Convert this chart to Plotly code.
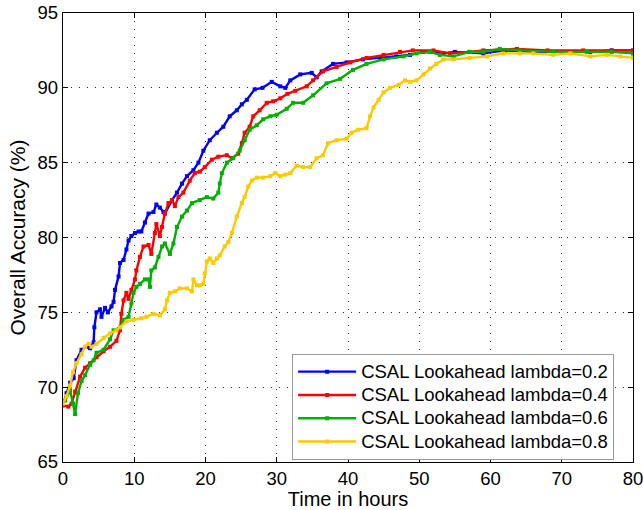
import plotly.graph_objects as go

# ---- data (hours, overall accuracy %) ----
blue_h = [0, 0.5, 1.0, 1.5, 1.9, 2.6, 3.3, 3.8, 4.3, 4.4, 4.7, 5.2, 5.4, 5.9, 6.3, 6.8, 7.1, 7.3, 7.8, 8.0,
          8.5, 8.9, 9.2, 9.6, 10.1, 10.6, 11.0, 11.5, 12.0, 12.7, 13.1, 13.6, 14.1, 14.3, 15.3, 16.0, 16.7,
          17.4, 18.3, 19.0, 19.7, 20.6, 21.6, 22.5, 23.4, 24.4, 25.1, 25.8, 26.9, 28.0, 29.3, 30.5, 31.2,
          31.9, 33.3, 34.9, 35.6, 36.3, 37.9, 39.8, 42.1, 44.5, 46.8, 48.7, 50.5, 53.4, 55, 59, 62, 66, 70,
          74, 77, 80]
blue_v = [68.8, 69.6, 70.3, 70.6, 71.8, 72.5, 72.7, 72.6, 73.0, 74.0, 75.0, 75.2, 74.7, 75.3, 75.0, 75.4,
          75.7, 76.5, 77.4, 78.3, 78.5, 79.2, 79.8, 80.1, 80.3, 80.4, 80.4, 81.0, 81.6, 81.7, 82.2, 82.0,
          81.7, 81.6, 82.5, 83.0, 83.6, 84.1, 84.5, 85.0, 85.8, 86.5, 87.0, 87.4, 88.1, 88.5, 88.9, 89.2,
          89.9, 90.0, 90.4, 90.1, 90.0, 90.5, 90.9, 91.0, 90.7, 91.1, 91.6, 91.7, 91.9, 92.0, 92.1, 92.2,
          92.4, 92.3, 92.4, 92.3, 92.5, 92.4, 92.4, 92.4, 92.5, 92.5]

red_h = [0, 0.75, 1.2, 1.7, 2.4, 3.1, 3.8, 4.7, 5.7, 6.6, 7.5, 8.0, 8.2, 8.5, 8.9, 9.2, 9.6, 10.1, 10.3,
         10.8, 11.3, 12.0, 12.4, 12.9, 13.1, 13.6, 13.9, 14.3, 14.8, 15.3, 15.7, 16.2, 16.9, 17.8, 18.5,
         19.2, 19.9, 20.9, 21.8, 23.0, 23.7, 24.6, 25.1, 25.5, 26.2, 26.7, 27.6, 28.6, 29.5, 30.5, 31.5,
         32.6, 34.2, 35.1, 36.5, 38.4, 40.3, 42.6, 45.0, 47.3, 49.1, 52, 54.3, 57, 59, 63.7, 68, 73, 77, 80]
red_v = [68.8, 68.7, 68.9, 69.7, 70.7, 71.3, 71.6, 72.0, 72.4, 72.7, 73.1, 73.8, 74.9, 75.8, 76.3, 75.9,
         76.5, 77.2, 77.8, 78.7, 79.4, 79.5, 78.9, 80.3, 80.9, 80.1, 80.7, 81.6, 82.3, 82.5, 82.1, 82.7,
         83.0, 83.8, 84.3, 84.4, 84.7, 85.2, 85.4, 85.5, 85.3, 85.6, 86.3, 87.0, 87.4, 88.1, 88.5, 89.0,
         89.1, 89.3, 89.6, 89.8, 90.1, 90.5, 91.1, 91.4, 91.7, 92.0, 92.2, 92.4, 92.5, 92.5, 92.3, 92.4,
         92.5, 92.6, 92.5, 92.5, 92.5, 92.5]

green_h = [0, 0.3, 1.0, 1.4, 1.7, 2.1, 2.6, 3.1, 3.8, 4.3, 4.7, 5.7, 6.6, 7.1, 8.0, 8.5, 9.2, 9.6, 9.9,
           10.3, 10.8, 11.5, 12.0, 12.2, 12.4, 12.9, 13.4, 13.9, 14.3, 15.0, 15.5, 16.0, 16.7, 17.4, 18.1,
           19.2, 20.2, 21.1, 21.8, 22.0, 22.3, 23.0, 23.9, 24.8, 25.5, 26.2, 27.2, 28.1, 29.1, 30.0, 31.4,
           32.3, 33.7, 35.1, 37.0, 38.9, 40.7, 42.6, 45.0, 47.8, 49.6, 51.5, 52.9, 54.8, 57.1, 59, 61.3,
           64.1, 68.8, 73.5, 77, 80]
green_v = [69.0, 69.1, 69.8, 68.9, 68.2, 69.6, 70.4, 70.8, 71.5, 71.8, 72.3, 72.5, 73.2, 73.8, 74.0, 74.5,
           74.7, 75.6, 76.3, 76.7, 76.9, 77.2, 77.2, 76.7, 77.8, 78.0, 78.7, 79.4, 79.6, 78.9, 79.6, 80.7,
           81.4, 81.8, 82.3, 82.5, 82.7, 82.6, 83.0, 83.6, 84.3, 85.0, 85.3, 85.8, 86.5, 87.2, 87.5, 87.9,
           88.1, 88.2, 88.6, 89.0, 89.0, 89.5, 90.3, 90.6, 91.2, 91.6, 91.9, 92.1, 92.3, 92.4, 92.2, 92.1,
           92.4, 92.4, 92.6, 92.5, 92.4, 92.4, 92.4, 92.3]

yellow_h = [0, 0.5, 1.0, 1.4, 1.9, 2.6, 3.1, 3.6, 4.0, 4.7, 5.7, 6.6, 7.5, 8.0, 8.9, 9.9, 11.0, 11.7, 12.7,
            13.6, 14.3, 14.6, 15.0, 15.7, 16.4, 17.4, 18.1, 18.3, 18.8, 19.2, 19.7, 19.9, 20.2, 20.6, 21.1,
            21.6, 22.0, 22.7, 23.2, 23.7, 24.4, 25.1, 25.5, 26.0, 26.5, 27.2, 28.1, 29.1, 29.8, 30.5, 31.2,
            31.9, 32.8, 33.7, 34.7, 35.6, 36.5, 37.2, 38.4, 39.8, 40.5, 41.4, 42.6, 43.1, 43.6, 44.3, 45.0,
            45.9, 47.1, 48.0, 48.7, 49.6, 50.6, 51.5, 52.4, 53.4, 54.8, 57.1, 59.5, 61.8, 64.1, 66, 68.8,
            71.2, 74.0, 76.3, 78.2, 80]
yellow_v = [68.9, 69.4, 70.1, 71.0, 71.6, 72.2, 72.7, 72.9, 72.7, 72.9, 73.3, 73.6, 73.8, 74.0, 74.4, 74.5,
            74.6, 74.7, 74.9, 74.8, 75.2, 75.8, 76.3, 76.4, 76.6, 76.6, 76.4, 77.2, 76.8, 76.8, 76.9, 77.6,
            78.4, 78.6, 78.3, 78.6, 78.8, 79.4, 79.7, 80.3, 81.4, 82.3, 82.7, 83.4, 83.8, 84.0, 84.0, 84.1,
            84.3, 84.1, 84.2, 84.3, 84.8, 84.7, 84.7, 85.3, 85.5, 86.3, 86.5, 86.6, 87.0, 87.2, 87.3, 88.1,
            88.7, 89.2, 89.7, 90.0, 90.2, 90.5, 90.4, 90.5, 90.9, 91.3, 91.6, 91.9, 91.9, 92.0, 92.1, 92.3,
            92.3, 92.3, 92.2, 92.3, 92.1, 92.2, 92.1, 92.0]

names = ["CSAL Lookahead lambda=0.2", "CSAL Lookahead lambda=0.4",
         "CSAL Lookahead lambda=0.6", "CSAL Lookahead lambda=0.8"]
colors = ["#0000FF", "#FF0000", "#00B000", "#FFC800"]

x_ticks = [0, 10, 20, 30, 40, 50, 60, 70, 80]
y_ticks = [65, 70, 75, 80, 85, 90, 95]

series = [(blue_h, blue_v), (red_h, red_v), (green_h, green_v), (yellow_h, yellow_v)]

fig = go.Figure()
for (h, v), name, col in zip(series, names, colors):
    fig.add_trace(go.Scatter(
        x=h, y=v, mode="lines+markers",
        name="<span style='font-size:18.5px'>" + name + "</span>",
        line=dict(color=col, width=2.4),
        marker=dict(color=col, size=4, symbol="square"),
    ))

font = "Liberation Sans, Arial, Helvetica, sans-serif"
axis_common = dict(
    showline=True, linecolor="black", linewidth=1.3, mirror="ticks",
    ticks="inside", ticklen=5, tickcolor="black", tickwidth=1,
    showgrid=True, gridcolor="#333333", gridwidth=1, griddash="1px,7px",
    zeroline=False, automargin=False, ticklabeloverflow="allow",
    tickfont=dict(family=font, size=18.5, color="black"),
)

fig.update_layout(
    width=643, height=510,
    margin=dict(l=63, r=10, t=13, b=48, autoexpand=False),
    paper_bgcolor="white", plot_bgcolor="white",
    font=dict(family=font, color="black"),
    showlegend=True,
    legend=dict(
        x=0.402, y=0.2405, xanchor="left", yanchor="top",
        bgcolor="white", bordercolor="#999999", borderwidth=1,
        font=dict(family=font, size=15.6, color="black"),
        itemwidth=58, tracegroupgap=0,
    ),
    xaxis=dict(range=[0, 80], tickvals=x_ticks,
               title=dict(text="Time in hours", font=dict(family=font, size=20), standoff=2),
               **axis_common),
    yaxis=dict(range=[65, 95], tickvals=y_ticks,
               title=dict(text="Overall Accuracy (%)", font=dict(family=font, size=21), standoff=6),
               **axis_common),
)

fig.write_html("out.html")
